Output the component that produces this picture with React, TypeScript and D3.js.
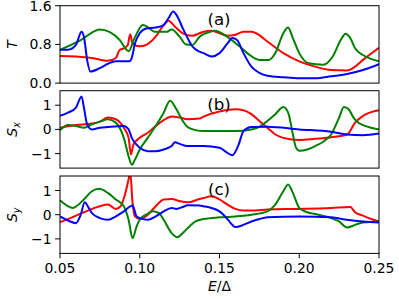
import React, { useEffect, useRef } from "react";
import * as d3 from "d3";

// panel (a): transmission T
const aRedX = [0.05, 0.06, 0.07, 0.08, 0.085, 0.0875, 0.09, 0.0925, 0.094, 0.0955, 0.1, 0.104, 0.11, 0.115, 0.118, 0.122, 0.127, 0.133, 0.1375, 0.14, 0.145, 0.15, 0.155, 0.16, 0.165, 0.17, 0.173, 0.18, 0.19, 0.2, 0.21, 0.22, 0.23, 0.235, 0.24, 0.25];
const aRedY = [0.56, 0.55, 0.52, 0.46, 0.52, 0.69, 0.72, 0.79, 1.01, 0.82, 0.76, 0.79, 0.96, 1.2, 1.29, 1.17, 1.03, 0.98, 1.03, 1.06, 1.08, 1.03, 0.98, 1.0, 1.06, 1.06, 1.03, 0.86, 0.62, 0.45, 0.34, 0.27, 0.26, 0.34, 0.48, 0.73];
const aGreenX = [0.05, 0.0625, 0.075, 0.081, 0.0875, 0.0917, 0.093, 0.097, 0.102, 0.11, 0.117, 0.12, 0.125, 0.129, 0.133, 0.1375, 0.144, 0.147, 0.156, 0.1625, 0.169, 0.175, 0.181, 0.185, 0.19, 0.193, 0.196, 0.2, 0.206, 0.215, 0.221, 0.226, 0.229, 0.232, 0.235, 0.24, 0.25];
const aGreenY = [0.69, 0.88, 1.11, 1.06, 0.89, 0.69, 0.66, 0.95, 1.2, 1.06, 1.06, 1.11, 0.96, 0.8, 0.79, 0.96, 1.06, 1.08, 0.93, 0.76, 0.58, 0.48, 0.48, 0.62, 1.03, 1.15, 0.93, 0.62, 0.41, 0.38, 0.55, 0.89, 1.02, 0.93, 0.72, 0.58, 0.45];
const aBlueX = [0.05, 0.055, 0.06, 0.0635, 0.065, 0.067, 0.069, 0.075, 0.08, 0.085, 0.0935, 0.095, 0.097, 0.1, 0.104, 0.11, 0.115, 0.118, 0.121, 0.123, 0.127, 0.13, 0.133, 0.1375, 0.14, 0.145, 0.15, 0.155, 0.158, 0.161, 0.165, 0.17, 0.175, 0.18, 0.19, 0.2, 0.21, 0.22, 0.23, 0.24, 0.25];
const aBlueY = [0.69, 0.69, 0.79, 1.06, 0.96, 0.48, 0.24, 0.31, 0.4, 0.45, 0.45, 0.52, 0.82, 1.03, 1.13, 1.15, 1.2, 1.34, 1.48, 1.41, 1.13, 0.93, 0.76, 0.65, 0.62, 0.55, 0.62, 0.82, 0.93, 0.89, 0.62, 0.34, 0.21, 0.15, 0.12, 0.1, 0.1, 0.14, 0.19, 0.27, 0.39];

// panel (b): S_x
const bRedX = [0.05, 0.06, 0.07, 0.075, 0.08, 0.085, 0.09, 0.093, 0.0945, 0.096, 0.1, 0.105, 0.11, 0.115, 0.12, 0.125, 0.13, 0.1375, 0.14, 0.15, 0.16, 0.165, 0.17, 0.175, 0.18, 0.185, 0.19, 0.2, 0.21, 0.22, 0.23, 0.235, 0.24, 0.25];
const bRedY = [0.07, 0.18, 0.24, 0.32, 0.49, 0.42, 0.07, -0.35, -1.04, -0.63, -0.35, -0.14, 0.14, 0.38, 0.53, 0.49, 0.42, 0.45, 0.53, 0.74, 0.83, 0.79, 0.63, 0.35, 0.07, -0.21, -0.35, -0.44, -0.39, -0.32, -0.21, 0.28, 0.56, 0.79];
const bGreenX = [0.05, 0.055, 0.06, 0.065, 0.07, 0.075, 0.08, 0.085, 0.09, 0.093, 0.095, 0.097, 0.1, 0.105, 0.11, 0.115, 0.119, 0.123, 0.127, 0.13, 0.135, 0.14, 0.15, 0.16, 0.17, 0.175, 0.18, 0.185, 0.19, 0.193, 0.196, 0.198, 0.2, 0.205, 0.21, 0.215, 0.22, 0.225, 0.228, 0.231, 0.234, 0.237, 0.24, 0.245, 0.25];
const bGreenY = [-0.04, 0.18, 0.14, 0.07, 0.21, 0.32, 0.42, 0.28, -0.35, -1.11, -1.46, -1.25, -0.83, -0.35, 0.14, 0.69, 1.18, 0.83, 0.35, 0.1, -0.03, -0.07, -0.07, -0.07, 0.0, 0.1, 0.35, 0.63, 0.93, 0.7, -0.2, -0.76, -0.88, -0.83, -0.69, -0.51, -0.21, 0.49, 0.93, 0.83, 0.49, 0.28, 0.18, 0.07, 0.0];
const bBlueX = [0.05, 0.055, 0.06, 0.0635, 0.065, 0.067, 0.07, 0.075, 0.08, 0.09, 0.093, 0.095, 0.1, 0.105, 0.11, 0.115, 0.118, 0.12, 0.122, 0.125, 0.13, 0.14, 0.15, 0.155, 0.158, 0.162, 0.165, 0.17, 0.18, 0.2, 0.22, 0.23, 0.24, 0.25];
const bBlueY = [0.56, 0.69, 0.9, 1.36, 0.9, 0.21, 0.0, 0.07, 0.1, 0.14, 0.0, -0.35, -0.76, -0.9, -0.9, -0.83, -0.76, -0.69, -0.53, -0.6, -0.69, -0.69, -0.76, -0.97, -1.07, -0.63, -0.07, 0.1, 0.11, 0.0, -0.1, -0.21, -0.24, -0.17];

// panel (c): S_y
const cRedX = [0.05, 0.055, 0.06, 0.065, 0.07, 0.075, 0.08, 0.085, 0.088, 0.091, 0.093, 0.094, 0.0955, 0.097, 0.1, 0.105, 0.11, 0.115, 0.12, 0.125, 0.13, 0.1375, 0.14, 0.145, 0.15, 0.155, 0.16, 0.165, 0.17, 0.18, 0.2, 0.22, 0.232, 0.235, 0.24, 0.245, 0.25];
const cRedY = [-0.31, -0.18, -0.04, 0.1, 0.24, 0.35, 0.42, 0.24, 0.35, 0.9, 1.46, 1.75, 0.49, -0.07, -0.18, 0.0, 0.35, 0.63, 0.65, 0.56, 0.51, 0.65, 0.69, 0.76, 0.63, 0.42, 0.24, 0.17, 0.17, 0.21, 0.24, 0.28, 0.32, 0.1, -0.04, -0.18, -0.28];
const cGreenX = [0.05, 0.055, 0.058, 0.065, 0.07, 0.0745, 0.08, 0.085, 0.09, 0.093, 0.0955, 0.098, 0.1, 0.105, 0.108, 0.112, 0.115, 0.12, 0.1235, 0.127, 0.13, 0.135, 0.14, 0.15, 0.16, 0.17, 0.18, 0.185, 0.19, 0.193, 0.196, 0.2, 0.205, 0.21, 0.22, 0.225, 0.23, 0.235, 0.24, 0.25];
const cGreenY = [0.6, 0.35, 0.28, 0.63, 0.97, 1.07, 0.9, 0.63, 0.35, -0.21, -0.97, -0.49, -0.21, 0.04, 0.14, 0.07, -0.21, -0.76, -0.93, -0.76, -0.56, -0.28, -0.18, -0.11, -0.07, 0.0, 0.14, 0.42, 0.97, 1.25, 0.9, 0.28, 0.1, 0.03, -0.14, -0.28, -0.53, -0.42, -0.32, -0.28];
const cBlueX = [0.05, 0.055, 0.06, 0.063, 0.0655, 0.068, 0.07, 0.075, 0.08, 0.085, 0.09, 0.0955, 0.098, 0.1, 0.105, 0.11, 0.115, 0.12, 0.123, 0.127, 0.13, 0.1375, 0.14, 0.145, 0.15, 0.155, 0.158, 0.16, 0.165, 0.17, 0.175, 0.18, 0.2, 0.22, 0.23, 0.24, 0.25];
const cBlueY = [-0.07, -0.24, -0.35, 0.0, 0.51, 0.28, 0.07, -0.14, -0.21, -0.07, 0.14, 0.38, -0.07, -0.14, -0.21, -0.07, 0.14, 0.28, 0.24, 0.32, 0.39, 0.38, 0.35, 0.28, 0.14, -0.18, -0.42, -0.51, -0.42, -0.28, -0.18, -0.11, -0.07, -0.11, -0.21, -0.28, -0.32];

const xTicks = [0.05, 0.1, 0.15, 0.2, 0.25];

const W = 399;
const H = 299;
const left = 60;
const right = 379;
const panelH = 77.4;

const panels = [
  { id: "a", top: 5.7, domain: [0, 1.6], ticks: [0, 0.8, 1.6], fmt: d3.format(".1f"), label: "(a)", ylab: "T", sub: "",
    series: [[aRedX, aRedY, "#ff0000"], [aGreenX, aGreenY, "#008000"], [aBlueX, aBlueY, "#0000ff"]] },
  { id: "b", top: 90.7, domain: [-1.6, 1.6], ticks: [-1, 0, 1], fmt: d3.format("d"), label: "(b)", ylab: "S", sub: "x",
    series: [[bRedX, bRedY, "#ff0000"], [bGreenX, bGreenY, "#008000"], [bBlueX, bBlueY, "#0000ff"]] },
  { id: "c", top: 176.0, domain: [-1.6, 1.6], ticks: [-1, 0, 1], fmt: d3.format("d"), label: "(c)", ylab: "S", sub: "y",
    series: [[cRedX, cRedY, "#ff0000"], [cGreenX, cGreenY, "#008000"], [cBlueX, cBlueY, "#0000ff"]] },
];

export default function App() {
  const ref = useRef<SVGSVGElement>(null);

  useEffect(() => {
    const svg = d3.select(ref.current);
    svg.selectAll("*").remove();
    const font = "DejaVu Sans, sans-serif";

    const x = d3.scaleLinear().domain([0.05, 0.25]).range([left, right]);

    panels.forEach((p, i) => {
      const y = d3.scaleLinear().domain(p.domain).range([p.top + panelH, p.top]);
      const g = svg.append("g");

      g.append("clipPath")
        .attr("id", "clip-" + p.id)
        .append("rect")
        .attr("x", left)
        .attr("y", p.top)
        .attr("width", right - left)
        .attr("height", panelH);

      const line = d3
        .line<[number, number]>()
        .x((d) => x(d[0]))
        .y((d) => y(d[1]))
        .curve(d3.curveMonotoneX);

      p.series.forEach(([xs, ys, color]) => {
        const pts = (xs as number[]).map((v, j) => [v, (ys as number[])[j]] as [number, number]);
        g.append("path")
          .attr("clip-path", `url(#clip-${p.id})`)
          .attr("fill", "none")
          .attr("stroke", color as string)
          .attr("stroke-width", 2)
          .attr("stroke-linejoin", "round")
          .attr("d", line(pts));
      });

      // frame
      g.append("rect")
        .attr("x", left)
        .attr("y", p.top)
        .attr("width", right - left)
        .attr("height", panelH)
        .attr("fill", "none")
        .attr("stroke", "#000")
        .attr("stroke-width", 1);

      // y ticks
      p.ticks.forEach((t) => {
        g.append("line")
          .attr("x1", left - 4.9)
          .attr("x2", left)
          .attr("y1", y(t))
          .attr("y2", y(t))
          .attr("stroke", "#000")
          .attr("stroke-width", 1);
        g.append("text")
          .attr("x", left - 8.5)
          .attr("y", y(t))
          .attr("dy", "0.36em")
          .attr("text-anchor", "end")
          .style("font-family", font)
          .style("font-size", "13.9px")
          .text(p.fmt(t).replace("-", "\u2212"));
      });

      // panel label
      g.append("text")
        .attr("x", 219)
        .attr("y", p.top + 19)
        .attr("text-anchor", "middle")
        .style("font-family", font)
        .style("font-size", "16.7px")
        .text(p.label);

      // y label
      const yl = g
        .append("text")
        .attr("transform", `translate(17,${p.top + panelH / 2}) rotate(-90)`)
        .attr("text-anchor", "middle")
        .style("font-family", font)
        .style("font-size", "13.9px")
        .style("font-style", "italic");
      yl.append("tspan").text(p.ylab);
      if (p.sub) {
        yl.append("tspan").attr("dy", 3).style("font-size", "9.7px").text(p.sub);
      }

      // x axis on bottom panel
      if (i === panels.length - 1) {
        xTicks.forEach((t) => {
          g.append("line")
            .attr("x1", x(t))
            .attr("x2", x(t))
            .attr("y1", p.top + panelH)
            .attr("y2", p.top + panelH + 4.9)
            .attr("stroke", "#000")
            .attr("stroke-width", 1);
          g.append("text")
            .attr("x", x(t))
            .attr("y", p.top + panelH + 19.5)
            .attr("text-anchor", "middle")
            .style("font-family", font)
            .style("font-size", "13.9px")
            .text(d3.format(".2f")(t));
        });
        const xl = g
          .append("text")
          .attr("x", (left + right) / 2)
          .attr("y", 291)
          .attr("text-anchor", "middle")
          .style("font-family", font)
          .style("font-size", "13.9px");
        xl.append("tspan").style("font-style", "italic").text("E");
        xl.append("tspan").text("/\u0394");
      }
    });
  }, []);

  return (
    <svg
      ref={ref}
      width={W}
      height={H}
      style={{ position: "absolute", left: 0, top: 0, background: "#fff" }}
    />
  );
}
